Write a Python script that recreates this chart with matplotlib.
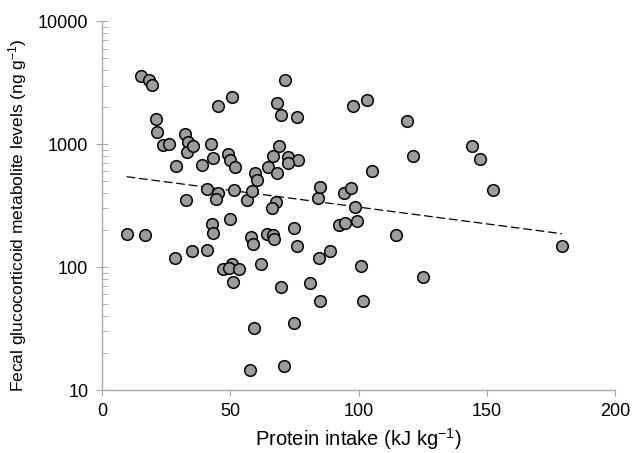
import matplotlib
matplotlib.use("Agg")
import matplotlib.pyplot as plt
from matplotlib.ticker import LogLocator, NullFormatter, FixedLocator
import numpy as np

plt.rcParams['font.family'] = ['Liberation Sans', 'DejaVu Sans']
plt.rcParams['mathtext.fontset'] = 'custom'
plt.rcParams['mathtext.rm'] = 'Liberation Sans'
plt.rcParams['mathtext.it'] = 'Liberation Sans'
plt.rcParams['mathtext.bf'] = 'Liberation Sans'

protein_intake = [
    9.8, 16.5, 15.2, 18.2, 19.4, 20.8, 21.5, 23.7, 26.0, 28.7,
    28.2, 32.2, 33.3, 33.2, 35.4, 32.5, 35.2, 38.8, 42.3, 43.2,
    40.7, 40.7, 42.9, 43.2, 45.0, 45.3, 44.4, 50.6, 49.2, 49.8,
    51.8, 51.5, 49.7, 47.1, 50.6, 49.6, 53.2, 51.0, 56.6, 58.5,
    59.7, 60.2, 58.2, 58.9, 61.8, 59.1, 57.8, 64.6, 66.7, 68.9,
    68.0, 69.6, 71.2, 68.1, 67.8, 66.4, 64.1, 66.7, 66.9, 69.6,
    70.9, 72.6, 76.5, 72.6, 76.1, 74.7, 75.8, 74.8, 80.9, 84.2,
    84.8, 84.4, 85.1, 88.7, 92.2, 94.7, 94.4, 97.0, 97.8, 103.4,
    98.7, 99.5, 101.1, 101.6, 105.1, 114.6, 118.9, 121.4, 125.1, 144.1,
    147.4, 152.5, 179.2,
]
fgm_levels = [
    186, 184, 3606, 3327, 3048, 1610, 1250, 984, 1004, 665,
    119, 1210, 1047, 869, 973, 350, 135, 673, 1004, 773,
    436, 137, 225, 188, 2047, 403, 358, 2436, 832, 743,
    649, 422, 246, 96, 107, 99, 96, 75, 350, 419,
    580, 508, 175, 154, 107, 32, 14.6, 649, 806, 966,
    2162, 1730, 3311, 583, 341, 300, 185, 181, 168, 68.5,
    15.7, 791, 743, 700, 1655, 207, 149, 35.3, 74, 367,
    449, 119, 53.4, 136, 219, 227, 404, 440, 2047, 2291,
    310, 237, 103, 53.4, 605, 181, 1535, 802, 82.6, 966,
    753, 424, 149,
]
trend_x = [9.5, 179.3]
trend_y = [544, 187]

x_ticks = [0, 50, 100, 150, 200]
y_ticks = [10, 100, 1000, 10000]
y_tick_labels = ['10', '100', '1000', '10000']

fig = plt.figure(figsize=(6.33, 4.53), dpi=100)
ax = fig.add_axes([0.1615, 0.139, 0.8100, 0.814])

axis_gray = '#a6a6a6'

ax.plot(trend_x, trend_y, color='black', lw=0.9, ls=(0, (7, 3)), zorder=2)
ax.scatter(protein_intake, fgm_levels, s=70, facecolor='#9c9c9c',
           edgecolor='black', linewidth=1.1, zorder=3, clip_on=False)

ax.set_yscale('log')
ax.set_xlim(0, 200)
ax.set_ylim(10, 10000)
ax.xaxis.set_major_locator(FixedLocator(x_ticks))
ax.set_xticklabels([str(t) for t in x_ticks])
ax.yaxis.set_major_locator(FixedLocator(y_ticks))
ax.set_yticklabels(y_tick_labels)
ax.yaxis.set_minor_locator(LogLocator(base=10, subs=np.arange(2, 10)))
ax.yaxis.set_minor_formatter(NullFormatter())

for s in ['top', 'right']:
    ax.spines[s].set_visible(False)
for s in ['left', 'bottom']:
    ax.spines[s].set_color(axis_gray)
    ax.spines[s].set_linewidth(1.0)

ax.tick_params(axis='x', which='major', direction='out', length=4,
               color=axis_gray, labelsize=13, pad=5)
ax.tick_params(axis='y', which='major', direction='inout', length=8,
               color=axis_gray, labelsize=13, pad=6)
ax.tick_params(axis='y', which='minor', direction='in', length=4,
               color=axis_gray)

ax.set_xlabel('Protein intake (kJ kg$^{-1}$)', fontsize=14.5, labelpad=5)
ax.set_ylabel('Fecal glucocorticoid metabolite levels (ng g$^{-1}$)',
              fontsize=12.5, labelpad=8)
ax.yaxis.set_label_coords(-0.143, 0.475)

fig.savefig('out.png', dpi=100)
